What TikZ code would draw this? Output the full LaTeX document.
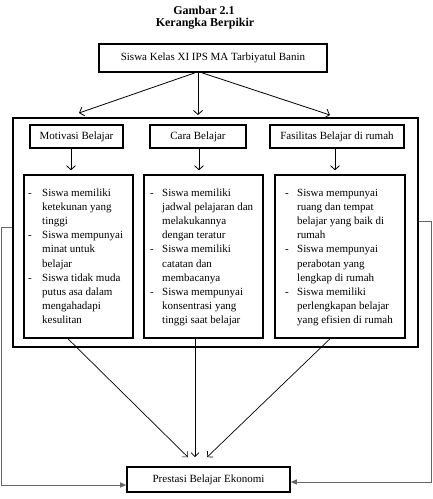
\documentclass[tikz,border=0pt]{standalone}
\usepackage{fontspec}
\setmainfont{Liberation Serif}
\usetikzlibrary{arrows.meta,calc}
\begin{document}
\begin{tikzpicture}[x=1pt,y=-1pt,
  thickbox/.style={draw, line width=1.6pt, inner sep=0pt},
  lbl/.style={font=\fontsize{11}{13}\selectfont},
  ttl/.style={font=\bfseries\fontsize{12}{14}\selectfont, inner sep=0pt},
  itemtext/.style={inner sep=0pt, anchor=north west, font=\fontsize{11}{14.2}\selectfont},
  conn/.style={line width=0.8pt, -{Straight Barb[length=4pt,width=9pt]}},
  thinconn/.style={draw=black, line width=0.7pt, -{Straight Barb[length=4pt,width=8pt]}},
  fb/.style={draw=black!60, line width=1pt, -{Triangle[length=6pt,width=5pt]}}
]
\useasboundingbox (0,0) rectangle (433,499);

\node[ttl] (g1) at (204,10) {Gambar 2.1};
\node[ttl] (g2) at (205,24) {Kerangka Berpikir};

\node[thickbox, minimum width=228pt, minimum height=28pt, lbl] (top) at (213,58) {Siswa Kelas XI IPS MA Tarbiyatul Banin};

\node[thickbox, minimum width=405pt, minimum height=229pt] (frame) at (215.5,232.5) {};

\node[thickbox, minimum width=93pt, minimum height=23pt, lbl] (h1) at (76.5,136.5) {Motivasi Belajar};
\node[thickbox, minimum width=96pt, minimum height=23pt, lbl] (h2) at (198,136.5) {Cara Belajar};
\node[thickbox, minimum width=134pt, minimum height=23pt, lbl] (h3) at (337,136.5) {Fasilitas Belajar di rumah};

\node[thickbox, minimum width=109pt, minimum height=163pt] (c1) at (78.5,256.5) {};
\node[thickbox, minimum width=119pt, minimum height=163pt] (c2) at (203.5,256.5) {};
\node[thickbox, minimum width=130pt, minimum height=163pt] (c3) at (340,256.5) {};

\node[itemtext] (i1) at (28,186) {\begin{tabular}{@{}p{14pt}@{}l@{}}
-&Siswa memiliki\\&ketekunan yang\\&tinggi\\
-&Siswa mempunyai\\&minat untuk\\&belajar\\
-&Siswa tidak muda\\&putus asa dalam\\&mengahadapi\\&kesulitan\end{tabular}};
\node[itemtext] (i2) at (150,186) {\begin{tabular}{@{}p{12pt}@{}l@{}}
-&Siswa memiliki\\&jadwal pelajaran dan\\&melakukannya\\&dengan teratur\\
-&Siswa memiliki\\&catatan dan\\&membacanya\\
-&Siswa mempunyai\\&konsentrasi yang\\&tinggi saat belajar\end{tabular}};
\node[itemtext] (i3) at (285,186) {\begin{tabular}{@{}p{12pt}@{}l@{}}
-&Siswa mempunyai\\&ruang dan tempat\\&belajar yang baik di\\&rumah\\
-&Siswa mempunyai\\&perabotan yang\\&lengkap di rumah\\
-&Siswa memiliki\\&perlengkapan belajar\\&yang efisien di rumah\end{tabular}};

\node[thickbox, minimum width=163pt, minimum height=25pt, lbl] (bot) at (208.5,479.5) {Prestasi Belajar Ekonomi};

% top arrows
\coordinate (a1) at (79,113);
\coordinate (a2) at (198,115);
\coordinate (a3) at (330,115);
\draw[conn] ($(top.south)+(-18,0)$) -- (a1);
\draw[conn] ($(top.south)+(-15,0)$) -- (a2);
\draw[conn] ($(top.south)+(-11,0)$) -- (a3);

% header arrows
\draw[conn, shorten >=4pt] ($(h1.south)+(-5.5,0)$) coordinate (d1) -- (d1 |- c1.north);
\draw[conn, shorten >=4pt] ($(h2.south)+(1,0)$) coordinate (d2) -- (d2 |- c2.north);
\draw[conn, shorten >=4pt] ($(h3.south)+(-2,0)$) coordinate (d3) -- (d3 |- c3.north);

% arrows to bottom
\draw[thinconn] ($(c1.south)+(-10.5,0)$) -- ($(bot.north)+(-20.5,-9)$);
\draw[thinconn] ($(c2.south)+(-8.5,0)$) -- ($(bot.north)+(-13.5,-9)$);
\draw[thinconn] ($(c3.south)+(-10,0)$) -- ($(bot.north)+(-1.5,-9)$);

% feedback lines
\coordinate (lc) at (1.5,227);
\coordinate (lb) at (1.5,485);
\draw[fb] (frame.west |- lc) -- (lc) -- (lb) -- (lb -| bot.west);
\coordinate (rc) at (431,221);
\coordinate (rb) at (431,482);
\draw[fb] (frame.east |- rc) -- (rc) -- (rb) -- (rb -| bot.east);
\end{tikzpicture}
\end{document}
